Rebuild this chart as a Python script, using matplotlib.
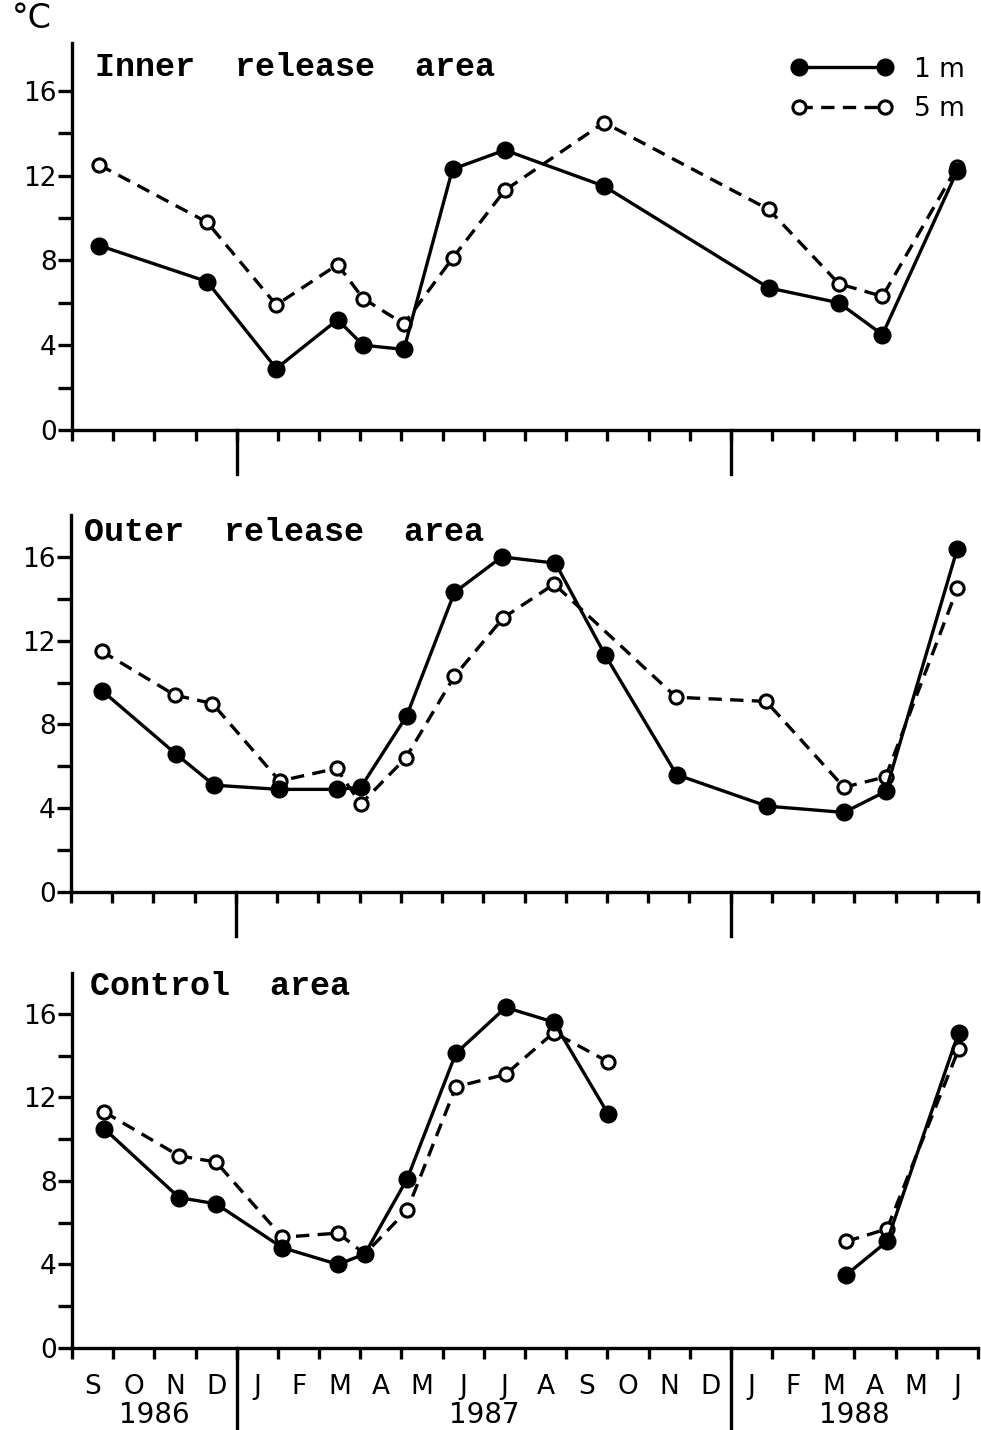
import numpy as np
import matplotlib
matplotlib.use("Agg")
import matplotlib.pyplot as plt
from matplotlib import transforms

# x = months counted from 1 Sep 1986 (0 = start of September 1986)
month_letters = ['S', 'O', 'N', 'D', 'J', 'F', 'M', 'A', 'M', 'J', 'J',
                 'A', 'S', 'O', 'N', 'D', 'J', 'F', 'M', 'A', 'M', 'J']
year_labels = ['1986', '1987', '1988']
year_edges = [0, 4, 16, 22]

# Inner release area
t_inner = [0.66, 3.28, 4.96, 6.45, 7.07, 8.06, 9.24, 10.51, 12.92, 16.92, 18.62, 19.68, 21.49]
inner_1m = [8.7, 7.0, 2.9, 5.2, 4.0, 3.8, 12.3, 13.2, 11.5, 6.7, 6.0, 4.5, 12.2]
inner_5m = [12.5, 9.8, 5.9, 7.8, 6.2, 5.0, 8.1, 11.3, 14.5, 10.4, 6.9, 6.3, 12.4]

# Outer release area (no 5 m reading in late September 1987)
t_outer_1m = [0.76, 2.54, 3.47, 5.05, 6.44, 7.03, 8.14, 9.30, 10.45, 11.75, 12.96,
              14.69, 16.88, 18.75, 19.76, 21.50]
outer_1m = [9.6, 6.6, 5.1, 4.9, 4.9, 5.0, 8.4, 14.3, 16.0, 15.7, 11.3, 5.6, 4.1, 3.8, 4.8, 16.4]
t_outer_5m = [0.74, 2.52, 3.43, 5.06, 6.44, 7.03, 8.12, 9.30, 10.49, 11.72,
              14.68, 16.86, 18.75, 19.76, 21.50]
outer_5m = [11.5, 9.4, 9.0, 5.3, 5.9, 4.2, 6.4, 10.3, 13.1, 14.7, 9.3, 9.1, 5.0, 5.5, 14.5]

# Control area (no sampling Oct 1987 - Feb 1988)
t_control = [0.78, 2.60, 3.50, 5.11, 6.46, 7.11, 8.14, 9.32, 10.53, 11.70, 13.02,
             np.nan, 18.80, 19.79, 21.53]
control_1m = [10.5, 7.2, 6.9, 4.8, 4.0, 4.5, 8.1, 14.1, 16.3, 15.6, 11.2,
              np.nan, 3.5, 5.1, 15.1]
control_5m = [11.3, 9.2, 8.9, 5.3, 5.5, 4.5, 6.6, 12.5, 13.1, 15.1, 13.7,
              np.nan, 5.1, 5.7, 14.3]

W, H = 981, 1430
fig = plt.figure(figsize=(W / 100, H / 100), dpi=100)
plt.rcParams['font.family'] = ['DejaVu Sans']

LW = 2.4
panels = [
    # title, (x0, top, x1, zero-line) in pixels, y max, year-tick length px, title pos
    ("Inner  release  area", (72, 43, 978, 430), 18.25, 44,
     t_inner, inner_1m, t_inner, inner_5m, (0.025, 0.915)),
    ("Outer  release  area", (71, 515, 978, 892), 18.0, 44,
     t_outer_1m, outer_1m, t_outer_5m, outer_5m, (0.014, 0.931)),
    ("Control  area", (72, 973, 978, 1348), 17.95, 82,
     t_control, control_1m, t_control, control_5m, (0.020, 0.941)),
]

axes = []
for i, (title, (x0, y0, x1, y1), ymax, ylong, ta, ya, tb, yb, tpos) in enumerate(panels):
    ax = fig.add_axes([x0 / W, 1 - y1 / H, (x1 - x0) / W, (y1 - y0) / H])
    axes.append(ax)
    ax.set_xlim(0, 22)
    ax.set_ylim(0, ymax)
    for s in ['top', 'right']:
        ax.spines[s].set_visible(False)
    for s in ['left', 'bottom']:
        ax.spines[s].set_linewidth(LW)
    ax.patch.set_visible(False)

    l5, = ax.plot(tb, yb, ls=(0, (4.0, 2.5)), color='black', lw=LW,
                  marker='o', ms=9.5, mfc='white', mec='black', mew=2.2, zorder=3)
    l1, = ax.plot(ta, ya, ls='-', color='black', lw=LW,
                  marker='o', ms=12, mfc='black', mec='black', zorder=4)

    # y axis
    ax.set_yticks([0, 4, 8, 12, 16])
    ax.set_yticks([2, 6, 10, 14], minor=True)
    ax.tick_params(axis='y', which='both', direction='out', length=10, width=LW,
                   labelsize=19, pad=1)

    # x axis: short ticks on month boundaries, letters at month centres
    ax.set_xticks(np.arange(0, 23), minor=True)
    ax.set_xticks(np.arange(22) + 0.5)
    if i == 2:
        ax.set_xticklabels(month_letters)
    else:
        ax.set_xticklabels([])
    ax.tick_params(axis='x', which='minor', direction='out', length=8, width=LW)
    ax.tick_params(axis='x', which='major', length=0, labelsize=19, pad=19)

    # long ticks separating the years
    frac = ylong / (y1 - y0)
    for xe in year_edges[1:-1]:
        ax.axvline(xe, ymin=-frac, ymax=0, color='black', lw=LW, clip_on=False)

    ax.text(tpos[0], tpos[1], title, transform=ax.transAxes, fontsize=24,
            family=['Liberation Mono', 'DejaVu Sans Mono'], fontweight='bold',
            va='baseline', ha='left')

    if i == 0:
        ax.legend([l1, l5], ['1 m', '5 m'], loc='upper right', frameon=False,
                  numpoints=2, handlelength=3.85, handletextpad=0.8,
                  fontsize=19, borderaxespad=0, borderpad=0,
                  bbox_to_anchor=(0.985, 0.965))

# year labels under the bottom panel
axb = axes[2]
trans = transforms.blended_transform_factory(axb.transData, axb.transAxes)
for k, lab in enumerate(year_labels):
    xc = 0.5 * (year_edges[k] + year_edges[k + 1])
    axb.text(xc, -0.178, lab, transform=trans, fontsize=20, ha='center', va='center')

fig.text(12 / W, 1 - 28 / H, '°C', fontsize=24, ha='left', va='baseline')

fig.savefig('out.png', dpi=100)
